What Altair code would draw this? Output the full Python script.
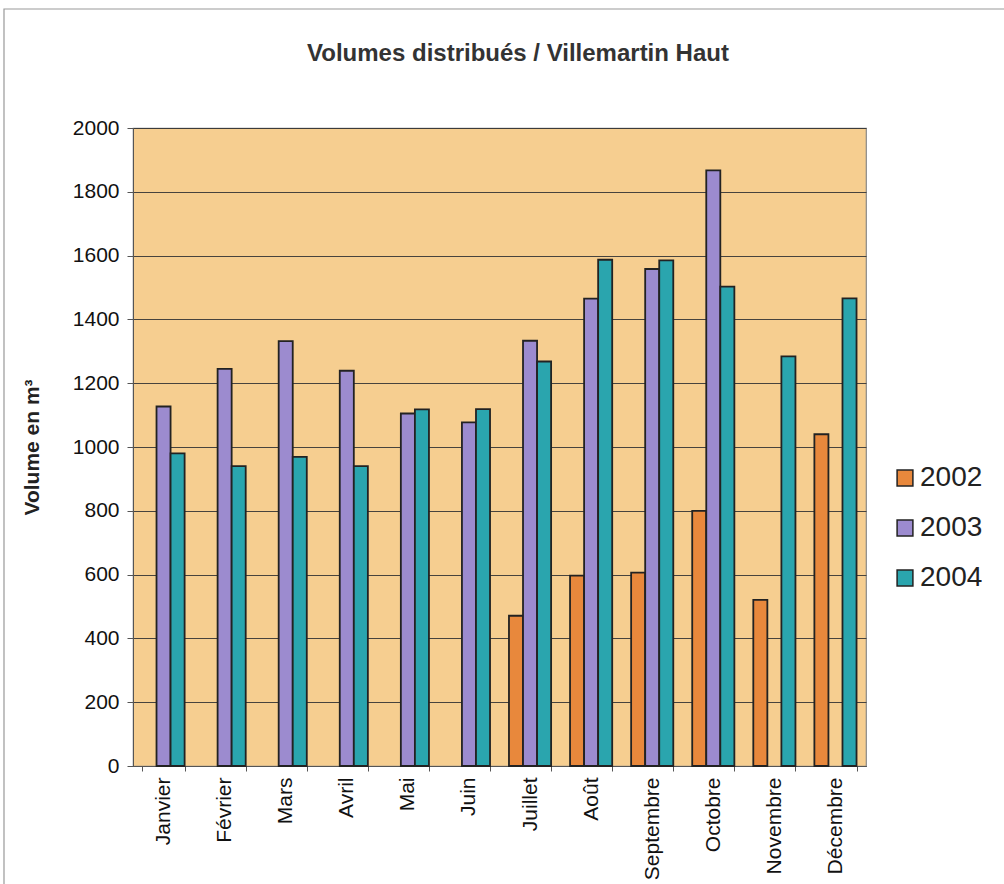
import altair as alt
import pandas as pd

# Monthly distributed volumes (m³) per year; None = no measurement
months = ["Janvier", "Février", "Mars", "Avril", "Mai", "Juin",
          "Juillet", "Août", "Septembre", "Octobre", "Novembre", "Décembre"]
years = ["2002", "2003", "2004"]
vol_2002 = [None, None, None, None, None, None, 471, 597, 606, 800, 521, 1040]
vol_2003 = [1127, 1245, 1332, 1239, 1105, 1077, 1333, 1465, 1558, 1867, None, None]
vol_2004 = [980, 940, 969, 940, 1118, 1119, 1268, 1587, 1585, 1503, 1284, 1466]
colors = ["#E8883C", "#9C8BCF", "#2AA5AE"]
title_text = "Volumes distribués / Villemartin Haut"

rows = []
for year, series in zip(years, [vol_2002, vol_2003, vol_2004]):
    for month, v in zip(months, series):
        if v is not None:
            rows.append({"Mois": month, "Année": year, "Volume": v})
df = pd.DataFrame(rows)

font = "Liberation Sans"
W, H = 733, 638

bars = alt.Chart(df).mark_bar(stroke="#222222", strokeWidth=1.8).encode(
    x=alt.X("Mois:N", sort=months,
            scale=alt.Scale(paddingInner=0.31, paddingOuter=0.155),
            axis=alt.Axis(title=None, labelAngle=270, labelFontSize=21,
                          labelFont=font, labelColor="#111111",
                          labelPadding=6, tickBand="extent", tickSize=5,
                          tickColor="#555555", domainColor="#555555",
                          grid=False)),
    xOffset=alt.XOffset("Année:N", scale=alt.Scale(domain=years, paddingInner=0, paddingOuter=0)),
    y=alt.Y("Volume:Q",
            scale=alt.Scale(domain=[0, 2000], nice=False),
            axis=alt.Axis(title="Volume en m³", values=list(range(0, 2001, 200)),
                          format="d",
                          titleFont=font, titleFontSize=21, titleFontWeight="bold",
                          titleColor="#222222", titlePadding=30,
                          labelFont=font, labelFontSize=21, labelColor="#111111",
                          labelPadding=8, tickSize=6, tickColor="#555555",
                          domainColor="#555555", gridColor="#333333",
                          gridWidth=0.9)),
    color=alt.Color("Année:N", scale=alt.Scale(domain=years, range=colors),
                    legend=alt.Legend(title=None, orient="none",
                                      legendX=758, legendY=336,
                                      symbolType="square", symbolSize=250,
                                      symbolStrokeColor="#222222",
                                      symbolStrokeWidth=1.5,
                                      labelFont=font, labelFontSize=28,
                                      labelColor="#222222", rowPadding=22,
                                      labelOffset=1)),
)

# Thin frame around the whole chart area
frame = alt.Chart(pd.DataFrame({"k": [0]})).mark_rect(
    fill=None, stroke="#999999", strokeWidth=1.2, clip=False
).encode(x=alt.value(-129), x2=alt.value(1000), y=alt.value(-119), y2=alt.value(900))

# Chart title, drawn as a text mark above the plot
title = alt.Chart(pd.DataFrame({"t": [title_text]})).mark_text(
    font=font, fontSize=24, fontWeight="bold", color="#333333",
    align="center", baseline="middle"
).encode(text="t:N", x=alt.value(385), y=alt.value(-74))

chart = alt.layer(frame, bars, title).properties(
    width=W, height=H,
    padding={"left": 133, "top": 128, "right": 138, "bottom": 118},
    autosize=alt.AutoSizeParams(type="none"),
    background="white",
).configure_view(fill="#F6CE90", stroke="#888888", strokeWidth=1.2)

chart.save("out.html", embed_options={"renderer": "svg", "actions": False})
